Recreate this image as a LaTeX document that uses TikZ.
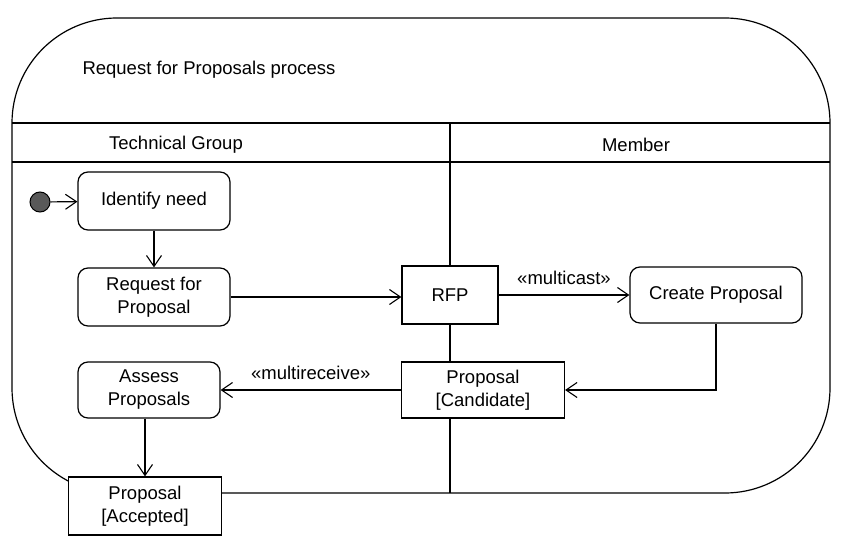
\documentclass[tikz,border=0pt]{standalone}
\usepackage{fontspec}
\setmainfont{Liberation Sans}
\usetikzlibrary{arrows.meta}

\begin{document}
\begin{tikzpicture}[
	x=1pt, y=-1pt,
	every node/.style={font=\fontsize{18.5}{23}\selectfont},
	acao/.style={draw, fill=white, rounded corners=10pt, align=center, inner sep=0pt, line width=1.2pt},
	objeto/.style={draw, fill=white, rectangle, align=center, inner sep=0pt, line width=1.2pt},
	seta/.style={line width=1.2pt, -{Straight Barb[length=11pt, width=15pt, line width=1.1pt]}},
	linha/.style={line width=1.2pt}
	]
	\useasboundingbox (0,0) rectangle (859,559);

	% moldura e raias
	\draw[linha, rounded corners=105pt] (12,18) rectangle (830,493);
	\draw[linha] (12,123) -- (830,123);
	\draw[linha] (12,162) -- (830,162);
	\draw[linha] (450,123) -- (450,493);

	\node[anchor=west] (titulo) at (79,70) {Request for Proposals process};
	\node (grupo) at (176,145) {Technical Group};
	\node (membro) at (636,145) {Member};

	\node[draw, circle, fill=black!65, line width=1pt, minimum size=20pt, inner sep=0pt] (I) at (40,202) {};
	\node[acao, minimum width=152pt, minimum height=58pt] (A) at (154,201) {Identify need};
	\node[acao, minimum width=152pt, minimum height=58pt] (B) at (154,297) {Request for\\Proposal};
	\node[objeto, minimum width=96pt, minimum height=58pt] (C) at (450,295) {RFP};
	\node[acao, minimum width=172pt, minimum height=56pt] (D) at (716,295) {Create Proposal};
	\node[objeto, minimum width=163pt, minimum height=56pt] (E) at (483,390) {Proposal\\{[}Candidate{]}};
	\node[acao, minimum width=142pt, minimum height=56pt] (F) at (149,390) {Assess\\Proposals};
	\node[objeto, minimum width=153pt, minimum height=58pt] (G) at (145,506) {Proposal\\{[}Accepted{]}};

	\draw[seta] (I) -- (A);
	\draw[seta] (A) -- (B);
	\draw[seta] (B) -- (C.west |- B);
	\draw[seta] (C) -- node[above=6pt] {«multicast»} (D);
	\draw[seta] (D.south) |- (E.east);
	\draw[seta] (E) -- node[above=6pt] {«multireceive»} (F);
	\draw[seta] (F.south -| G) -- (G);
\end{tikzpicture}
\end{document}
